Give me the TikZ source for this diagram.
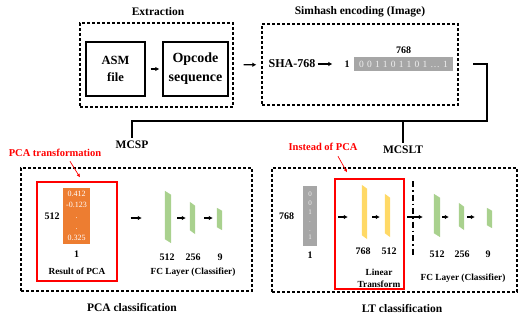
\documentclass[tikz,border=0pt]{standalone}
\usepackage{fontspec}
\setmainfont{Liberation Serif}
\usetikzlibrary{arrows.meta, positioning}
\definecolor{pcaorange}{RGB}{237,125,49}
\definecolor{fcgreen}{RGB}{169,209,142}
\definecolor{ltyellow}{RGB}{255,217,102}
\definecolor{bitgray}{RGB}{166,166,166}
\definecolor{bittext}{RGB}{240,240,240}
\definecolor{markred}{RGB}{255,0,0}

\tikzset{
  groupbox/.style={draw, line width=1.2pt, dash pattern=on 3pt off 2pt, inner sep=0pt},
  stagebox/.style={draw, line width=1.3pt, inner sep=0pt, align=center},
  markbox/.style={draw=markred, line width=1.3pt, inner sep=0pt},
  vecbox/.style={inner sep=0pt, align=center},
  arr/.style={-{Latex[length=4pt,width=4.5pt]}, line width=1.1pt},
  notearr/.style={-{Latex[length=3.5pt,width=3.5pt]}, line width=0.7pt, draw=markred},
  title/.style={font=\bfseries\fontsize{11.5}{13}\selectfont},
  lbl/.style={font=\bfseries\fontsize{9.3}{12}\selectfont, inner sep=1pt, align=center},
  num/.style={font=\bfseries\fontsize{10}{12}\selectfont, inner sep=1pt},
  note/.style={text=markred, font=\bfseries\fontsize{10.5}{12}\selectfont},
}

% one slanted layer: name, centre, width, height, slant, colour
\newcommand{\nnlayer}[6]{%
  \node[inner sep=0pt, minimum width=#3, minimum height=#4] (#1) at #2 {};
  \fill[#6] (#1.north west) -- ([yshift=-#5]#1.north east) -- (#1.south east)
    -- ([yshift=#5]#1.south west) -- cycle;
}

\begin{document}
\begin{tikzpicture}[x=1pt, y=-1pt]
    \useasboundingbox (0,0) rectangle (529,324);

    % Extraction
    \node[title] (exttitle) at (158,12) {Extraction};
    \node[groupbox, minimum width=153pt, minimum height=84pt] (extbox) at (156.5,65) {};
    \node[stagebox, minimum width=59pt, minimum height=54pt,
          font=\bfseries\fontsize{12.5}{17}\selectfont] (asm) at (115.5,69) {ASM\\file};
    \node[stagebox, minimum width=65pt, minimum height=54pt,
          font=\bfseries\fontsize{14}{19}\selectfont] (opcode) at (195.5,69) {Opcode\\sequence};
    \draw[arr, shorten <=5pt, shorten >=3pt] (asm) -- (opcode);

    % Simhash encoding
    \node[title] (simtitle) at (360,12) {Simhash encoding (Image)};
    \node[groupbox, minimum width=196pt, minimum height=81pt] (simbox) at (360,64.5) {};
    \draw[arr, shorten <=10pt, shorten >=5pt] (extbox) -- (simbox);
    \node[font=\bfseries\fontsize{12}{14}\selectfont, inner sep=1pt] (sha) at (292,64) {SHA-768};
    \node[vecbox, fill=bitgray, minimum width=99pt, minimum height=14pt, text=bittext,
          font=\fontsize{9.5}{11}\selectfont] (bits) at (403.5,64)
          {0\,\,0\,\,1\,\,1\,\,0\,\,1\,\,1\,\,0\,\,1\,\,\dots\,\,1};
    \node[num, left=3pt of bits] (bitrow) {1};
    \node[num, above=2pt of bits] (bitcol) {768};
    \draw[arr, shorten <=1pt, shorten >=11pt] (sha) -- (bitrow);

    % Branches
    \coordinate (turn) at (487,64);
    \coordinate (split) at (487,121);
    \node[title] (mcsp) at (132,145) {MCSP};
    \node[title] (mcslt) at (403,150) {MCSLT};
    \draw[line width=1.2pt, shorten <=20pt] (bits.east) -- (turn) -- (split) -| (mcsp.north);
    \draw[line width=1.2pt] (mcslt.north) -- (mcslt.north |- split);

    % PCA classification
    \coordinate (pcaaxis) at (0,218);
    \node[groupbox, minimum width=231pt, minimum height=123pt] (pcagroup) at (136.5,229.5) {};
    \node[markbox, minimum width=80pt, minimum height=99pt] (pcamark) at (77,231.5) {};
    \node[note] (pcanote) at (55,153) {PCA transformation};
    \draw[notearr] ([xshift=15pt,yshift=-1pt]pcanote.south) -- ([xshift=3pt,yshift=4pt]pcamark.north);
    \node[vecbox, fill=pcaorange, minimum width=27pt, minimum height=56pt, text=white,
          font=\fontsize{8}{11}\selectfont] (pcavec) at (76.5,216) {0.412\\-0.123\\.\\.\\0.325};
    \node[num, left=2pt of pcavec] (pcarows) {512};
    \node[num, below=5pt of pcavec] (pcacols) {1};
    \node[lbl] (pcares) at (77,271) {Result of PCA};

    \nnlayer{pfc1}{(168,217)}{6pt}{52pt}{4pt}{fcgreen}
    \nnlayer{pfc2}{(192.5,218)}{5pt}{32pt}{4pt}{fcgreen}
    \nnlayer{pfc3}{(219.5,219)}{5pt}{22pt}{3pt}{fcgreen}
    \draw[arr, shorten <=13pt, shorten >=23pt] (pcamark.east |- pcaaxis) -- (pfc1.west |- pcaaxis);
    \draw[arr, shorten <=6pt, shorten >=4pt] (pfc1.east |- pcaaxis) -- (pfc2.west |- pcaaxis);
    \draw[arr, shorten <=9pt, shorten >=4pt] (pfc2.east |- pcaaxis) -- (pfc3.west |- pcaaxis);
    \node[num] (pfc1n) at (167,257) {512};
    \node[num] (pfc2n) at (193,257) {256};
    \node[num] (pfc3n) at (220,257) {9};
    \node[lbl] (pfclbl) at (193,272) {FC Layer (Classifier)};
    \node[title] (pcatitle) at (132,308) {PCA classification};

    % LT classification
    \coordinate (ltaxis) at (0,217);
    \node[groupbox, minimum width=245pt, minimum height=124pt] (ltgroup) at (394.5,230) {};
    \node[markbox, minimum width=69pt, minimum height=110pt] (ltmark) at (369.5,234) {};
    \node[note] (ltnote) at (323,147) {Instead of PCA};
    \draw[notearr] ([xshift=15pt,yshift=-2pt]ltnote.south) -- ([xshift=-22.5pt,yshift=6pt]ltmark.north);
    \node[vecbox, fill=bitgray, minimum width=14pt, minimum height=60pt, text=bittext,
          font=\fontsize{7}{8.6}\selectfont] (ltvec) at (310,216) {0\\0\\1\\.\\.\\1};
    \node[num, left=7.5pt of ltvec] (ltrows) {768};
    \node[num, below=4.5pt of ltvec] (ltcols) {1};

    \nnlayer{lt1}{(364.5,212)}{5pt}{54pt}{4pt}{ltyellow}
    \nnlayer{lt2}{(387.5,215.5)}{5pt}{43pt}{4pt}{ltyellow}
    \nnlayer{lfc1}{(437,215.5)}{6pt}{43pt}{4pt}{fcgreen}
    \nnlayer{lfc2}{(461.5,216.5)}{5pt}{27pt}{4pt}{fcgreen}
    \nnlayer{lfc3}{(489.5,218)}{5pt}{20pt}{3pt}{fcgreen}
    \draw[arr, shorten <=21pt, shorten >=14pt] (ltvec.east |- ltaxis) -- (lt1.west |- ltaxis);
    \draw[arr, shorten <=5pt, shorten >=5pt] (lt1.east |- ltaxis) -- (lt2.west |- ltaxis);
    \draw[line width=1.3pt, dash pattern=on 6pt off 3pt on 1.5pt off 3pt] (413,181) -- (413,255);
    \draw[arr, shorten <=17pt, shorten >=11pt] (lt2.east |- ltaxis) -- (lfc1.west |- ltaxis);
    \draw[arr, shorten <=2pt, shorten >=10pt] (lfc1.east |- ltaxis) -- (lfc2.west |- ltaxis);
    \draw[arr, shorten <=3pt, shorten >=12pt] (lfc2.east |- ltaxis) -- (lfc3.west |- ltaxis);
    \node[num] (lt1n) at (363,251) {768};
    \node[num] (lt2n) at (389,251) {512};
    \node[num] (lfc1n) at (437,254) {512};
    \node[num] (lfc2n) at (462,254) {256};
    \node[num] (lfc3n) at (488,254) {9};
    \node[lbl] (ltlbl) at (379,278) {Linear\\Transform};
    \node[lbl] (lfclbl) at (463,278) {FC Layer (Classifier)};
    \node[title] (lttitle) at (402,309) {LT classification};
\end{tikzpicture}
\end{document}
